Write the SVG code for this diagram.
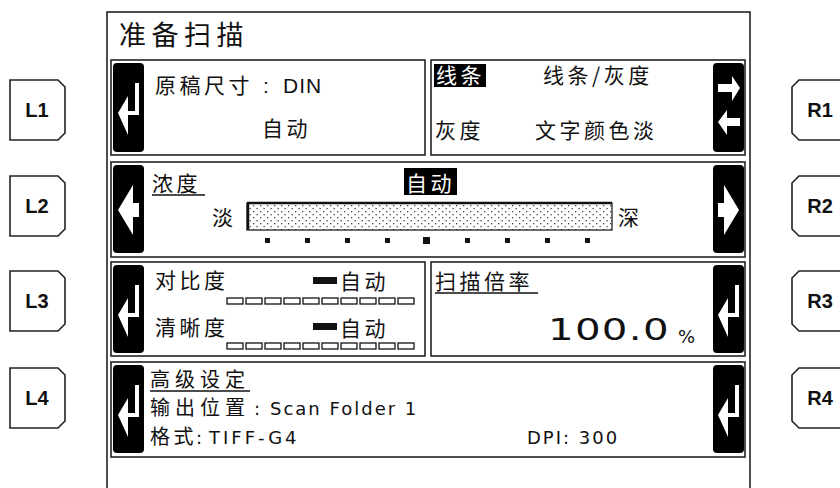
<svg xmlns="http://www.w3.org/2000/svg" width="840" height="488" viewBox="0 0 840 488">
<style>
.cj{font-family:"Noto Sans CJK SC","Noto Sans CJK JP",sans-serif;font-size:21px;letter-spacing:3.5px;fill:#111}
.lat{font-family:"DejaVu Sans",sans-serif;font-size:18px;letter-spacing:2px;fill:#111}
.col{font-family:"DejaVu Sans",sans-serif;font-size:18px;letter-spacing:0;fill:#111}
.ar{font-family:"Liberation Sans",Arial,sans-serif;font-size:21px;letter-spacing:1px;fill:#111}
.w{fill:#fff}
.panel{fill:#fff;stroke:#222;stroke-width:1.6}
.frame{fill:none;stroke:#222;stroke-width:1.6}
.btn{fill:#000}
.key{fill:#fff;stroke:#222;stroke-width:1.6}
.keyt{font-family:"Liberation Sans",Arial,sans-serif;font-weight:bold;font-size:20px;fill:#111;text-anchor:middle}
.ul{stroke:#111;stroke-width:1.4}
.box{fill:#fff;stroke:#111;stroke-width:1.3}
</style>
<defs>
<pattern id="dots" width="7" height="6" patternUnits="userSpaceOnUse">
<rect x="1" y="1" width="1.3" height="1.3" fill="#444"/>
<rect x="4.5" y="4" width="1.3" height="1.3" fill="#444"/>
</pattern>
<g id="enter">
<rect x="22" y="20" width="4" height="32" fill="#fff"/>
<rect x="13" y="48" width="13" height="4" fill="#fff"/>
<polygon points="5,50 15,33 15,72" fill="#fff"/>
</g>
<g id="larrow">
<polygon points="5,45 20,20 20,70" fill="#fff"/>
<rect x="19" y="38" width="7" height="14" fill="#fff"/>
</g>
<g id="rarrow">
<polygon points="26,45 11,20 11,70" fill="#fff"/>
<rect x="5" y="38" width="7" height="14" fill="#fff"/>
</g>
<g id="lr">
<rect x="5" y="21" width="15" height="8" fill="#fff"/>
<polygon points="19,13 27,25 19,38" fill="#fff"/>
<polygon points="5,59 14,47 14,72" fill="#fff"/>
<rect x="13" y="55" width="14" height="8" fill="#fff"/>
</g>
</defs>
<rect width="840" height="488" fill="#fff"/>

<g id="keys-left">
<g id="L1"><path class="key" d="M10,80 H58 L65,87 V133 L58,140 H10 Z"/><text class="keyt" x="37" y="117">L1</text></g>
<g id="L2"><path class="key" d="M10,176 H58 L65,183 V229 L58,236 H10 Z"/><text class="keyt" x="37" y="213">L2</text></g>
<g id="L3"><path class="key" d="M10,271 H58 L65,278 V324 L58,331 H10 Z"/><text class="keyt" x="37" y="308">L3</text></g>
<g id="L4"><path class="key" d="M10,368 H58 L65,375 V421 L58,428 H10 Z"/><text class="keyt" x="37" y="405">L4</text></g>
</g>
<g id="keys-right">
<g id="R1"><path class="key" d="M799,80 H850 V140 H799 L792,133 V87 Z"/><text class="keyt" x="820" y="117">R1</text></g>
<g id="R2"><path class="key" d="M799,176 H850 V236 H799 L792,229 V183 Z"/><text class="keyt" x="820" y="213">R2</text></g>
<g id="R3"><path class="key" d="M799,271 H850 V331 H799 L792,324 V278 Z"/><text class="keyt" x="820" y="308">R3</text></g>
<g id="R4"><path class="key" d="M799,368 H850 V428 H799 L792,421 V375 Z"/><text class="keyt" x="820" y="405">R4</text></g>
</g>

<g id="screen">
<rect class="frame" x="107" y="12" width="643" height="500"/>
<text class="cj" x="119" y="45" style="font-size:27px;letter-spacing:5.5px">准备扫描</text>
</g>

<g id="panel-size">
<rect class="panel" x="111" y="60" width="314" height="95"/>
<rect class="btn" x="113" y="63" width="31" height="89" rx="4"/>
<use href="#enter" x="113" y="63"/>
<text class="cj" x="155" y="93">原稿尺寸<tspan class="ar" x="263" style="letter-spacing:0">: </tspan><tspan class="ar" x="283">DIN</tspan></text>
<text class="cj" x="262" y="136">自动</text>
</g>

<g id="panel-mode">
<rect class="panel" x="431" y="60" width="314" height="95"/>
<rect class="btn" x="713" y="63" width="31" height="89" rx="4"/>
<use href="#lr" x="713" y="63"/>
<rect x="434" y="64" width="52" height="23" fill="#000"/>
<text class="cj w" x="436" y="83">线条</text>
<text class="cj" x="543" y="83">线条/灰度</text>
<text class="cj" x="435" y="138">灰度</text>
<text class="cj" x="535" y="138">文字颜色淡</text>
</g>

<g id="panel-density">
<rect class="panel" x="111" y="162" width="634" height="95"/>
<rect class="btn" x="113" y="165" width="31" height="88" rx="4"/>
<use href="#larrow" x="113" y="165"/>
<rect class="btn" x="713" y="165" width="31" height="88" rx="4"/>
<use href="#rarrow" x="713" y="165"/>
<text class="cj" x="152" y="191">浓度</text>
<line class="ul" x1="152" y1="195" x2="205" y2="195"/>
<rect x="404" y="168" width="53" height="27" fill="#000"/>
<text class="cj w" x="406" y="191">自动</text>
<text class="cj" x="212" y="225">淡</text>
<text class="cj" x="618" y="225">深</text>
<rect x="247" y="203" width="365" height="27" fill="url(#dots)" stroke="#222" stroke-width="1.3"/>
<line x1="247" y1="203" x2="612" y2="203" stroke="#111" stroke-width="2.5"/>
<line x1="248" y1="203" x2="248" y2="230" stroke="#111" stroke-width="2.5"/>
<g fill="#111">
<rect x="265" y="238" width="5" height="5"/>
<rect x="305" y="238" width="5" height="5"/>
<rect x="345" y="238" width="5" height="5"/>
<rect x="385" y="238" width="5" height="5"/>
<rect x="423" y="237" width="7" height="7"/>
<rect x="465" y="238" width="5" height="5"/>
<rect x="505" y="238" width="5" height="5"/>
<rect x="545" y="238" width="5" height="5"/>
<rect x="585" y="238" width="5" height="5"/>
</g>
</g>

<g id="panel-contrast">
<rect class="panel" x="111" y="262" width="314" height="94"/>
<rect class="btn" x="113" y="265" width="31" height="88" rx="4"/>
<use href="#enter" x="113" y="265"/>
<text class="cj" x="155" y="288">对比度</text>
<rect x="313" y="277" width="24" height="7" fill="#111"/>
<text class="cj" x="340" y="289">自动</text>
<g class="box">
<rect x="227" y="298" width="16" height="6"/><rect x="246" y="298" width="16" height="6"/><rect x="265" y="298" width="16" height="6"/><rect x="284" y="298" width="16" height="6"/><rect x="303" y="298" width="16" height="6"/><rect x="322" y="298" width="16" height="6"/><rect x="341" y="298" width="16" height="6"/><rect x="360" y="298" width="16" height="6"/><rect x="379" y="298" width="16" height="6"/><rect x="398" y="298" width="16" height="6"/>
</g>
<text class="cj" x="155" y="335">清晰度</text>
<rect x="313" y="323" width="24" height="7" fill="#111"/>
<text class="cj" x="340" y="336">自动</text>
<g class="box">
<rect x="227" y="343" width="16" height="6"/><rect x="246" y="343" width="16" height="6"/><rect x="265" y="343" width="16" height="6"/><rect x="284" y="343" width="16" height="6"/><rect x="303" y="343" width="16" height="6"/><rect x="322" y="343" width="16" height="6"/><rect x="341" y="343" width="16" height="6"/><rect x="360" y="343" width="16" height="6"/><rect x="379" y="343" width="16" height="6"/><rect x="398" y="343" width="16" height="6"/>
</g>
</g>

<g id="panel-ratio">
<rect class="panel" x="431" y="262" width="314" height="94"/>
<rect class="btn" x="713" y="265" width="31" height="88" rx="4"/>
<use href="#enter" x="713" y="265"/>
<text class="cj" x="435" y="289">扫描倍率</text>
<line class="ul" x1="435" y1="293" x2="538" y2="293"/>
<text class="lat" transform="translate(548,340) scale(1.3,1)" x="0" y="0" style="font-size:31px;letter-spacing:1px">100.0</text>
<text class="lat" x="678" y="343" style="font-size:18px;letter-spacing:0">%</text>
</g>

<g id="panel-advanced">
<rect class="panel" x="111" y="362" width="634" height="95"/>
<rect class="btn" x="113" y="365" width="31" height="88" rx="4"/>
<use href="#enter" x="113" y="365"/>
<rect class="btn" x="713" y="365" width="31" height="88" rx="4"/>
<use href="#enter" x="713" y="365"/>
<text class="cj" x="150" y="387" style="font-size:20px;letter-spacing:5px">高级设定</text>
<line class="ul" x1="150" y1="391" x2="250" y2="391"/>
<text class="cj" x="150" y="415" style="font-size:20px;letter-spacing:5px">输出位置<tspan class="col" x="254">: </tspan><tspan class="lat" x="270">Scan Folder 1</tspan></text>
<text class="cj" x="150" y="444" style="font-size:20px;letter-spacing:3.5px">格式<tspan class="col" x="196">: </tspan><tspan class="lat" x="209" style="letter-spacing:3px">TIFF-G4</tspan></text>
<text class="lat" x="527" y="444">DPI: 300</text>
</g>
</svg>
